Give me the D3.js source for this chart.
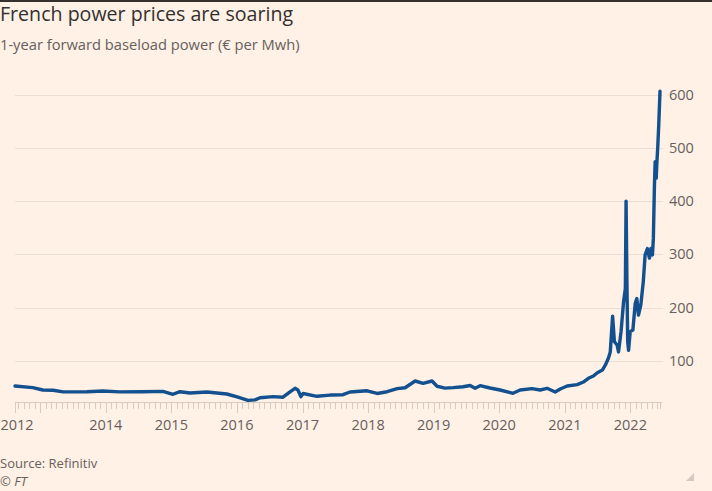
<!DOCTYPE html>
<html>
<head>
<meta charset="utf-8">
<script src="https://cdn.jsdelivr.net/npm/d3@7"></script>
<style>
  html, body { margin: 0; padding: 0; background: #fff1e5; }
  svg { display: block; }
</style>
</head>
<body>
<svg id="chart" width="712" height="491"></svg>
<script>
// ---- data ----
const dates = [
  "2012-08-13","2012-11-20","2013-01-15","2013-03-13","2013-05-08","2013-09-18","2013-12-15",
  "2014-03-20","2014-07-26","2014-11-15","2015-01-10","2015-02-18","2015-04-15","2015-07-18",
  "2015-11-06","2016-01-07","2016-03-03","2016-04-11","2016-05-09","2016-07-20","2016-09-14",
  "2016-10-23","2016-11-20","2016-12-06","2016-12-23","2017-01-04","2017-03-22","2017-06-03",
  "2017-08-14","2017-09-22","2017-12-26","2018-02-20","2018-04-17","2018-06-12","2018-07-26",
  "2018-09-20","2018-11-03","2018-12-23","2019-01-20","2019-03-05","2019-04-20","2019-06-14",
  "2019-07-23","2019-08-20","2019-09-17","2019-11-11","2020-01-06","2020-03-18","2020-04-27",
  "2020-07-02","2020-08-16","2020-09-24","2020-11-08","2020-12-06","2021-01-14","2021-03-11",
  "2021-04-14","2021-05-12","2021-06-09","2021-07-01","2021-07-29","2021-08-15","2021-09-01",
  "2021-09-11","2021-09-24","2021-10-04","2021-10-19","2021-10-27","2021-11-10","2021-11-24",
  "2021-12-04","2021-12-08","2021-12-13","2021-12-17","2021-12-22","2021-12-31","2022-01-15",
  "2022-01-28","2022-02-06","2022-02-15","2022-02-28","2022-03-14","2022-03-24","2022-04-06",
  "2022-04-17","2022-04-26","2022-05-04","2022-05-09","2022-05-15","2022-05-19","2022-05-25",
  "2022-05-28","2022-06-03","2022-06-08","2022-06-15"
];
const prices = [
  53,50,45.5,45,42,42.3,43.6,
  42,42.3,43,37.5,42.3,40,41.8,
  38,32,26,27,31,33,32,
  42,48.7,45.5,33,39,33.7,36,
  36.7,41.8,44,39,42.3,48,49.8,
  62.4,58,62.4,52.5,49,50,51.7,
  54,48.7,53.6,49.3,45.5,39.3,45.5,
  48,45.5,48.7,41.8,47.4,53,55.5,
  60.5,67.5,71.8,78,83,92.5,105.6,
  117,184,136,130,117,155,211,
  236,400,242,136,120,155,158,
  208,217,186,205,249,299,311,
  293,311,299,330,430,474,443,
  468,505,543,606
];
const yTicks = [100, 200, 300, 400, 500, 600];
const xTickDates = ["2012-08-13","2014-01-01","2015-01-01","2016-01-01","2017-01-01","2018-01-01","2019-01-01","2020-01-01","2021-01-01","2022-01-01"];
const xTickLabels = ["2012","2014","2015","2016","2017","2018","2019","2020","2021","2022"];
const title = "French power prices are soaring";
const subtitle = "1-year forward baseload power (€ per Mwh)";
const source = "Source: Refinitiv";
const credit = "© FT";

// ---- drawing ----
const parse = d3.timeParse("%Y-%m-%d");
const series = dates.map((d, i) => ({ date: parse(d), value: prices[i] }));
const svg = d3.select("#chart");
const FONT = "'Open Sans', sans-serif";

svg.append("rect").attr("width", 712).attr("height", 491).attr("fill", "#fff1e5");
svg.append("rect").attr("width", 712).attr("height", 2).attr("fill", "#33302e");

const x = d3.scaleTime()
  .domain([parse("2012-08-13"), parse("2022-06-15")])
  .range([15, 660]);
const y = d3.scaleLinear().domain([23, 600]).range([402, 94.5]);

// gridlines
svg.append("g").selectAll("line").data(yTicks).join("line")
  .attr("x1", 15).attr("x2", 663)
  .attr("y1", d => Math.round(y(d)) + 0.5).attr("y2", d => Math.round(y(d)) + 0.5)
  .attr("stroke", "#ebdfd3").attr("stroke-width", 1);

// y labels
svg.append("g").selectAll("text").data(yTicks).join("text")
  .attr("x", 669).attr("y", d => y(d) + 5)
  .attr("font-family", FONT).attr("font-size", 14.5).attr("fill", "#66605c")
  .text(d => d);

// x axis baseline & ticks
const axisColor = "#d8ccc0";
svg.append("line").attr("x1", 15).attr("x2", 662)
  .attr("y1", 402.5).attr("y2", 402.5).attr("stroke", axisColor);
const months = d3.timeMonth.range(d3.timeMonth.ceil(x.domain()[0]), x.domain()[1]);
svg.append("g").selectAll("line").data(months).join("line")
  .attr("x1", d => Math.round(x(d)) + 0.5).attr("x2", d => Math.round(x(d)) + 0.5)
  .attr("y1", 402).attr("y2", d => d.getMonth() === 0 ? 413 : 409)
  .attr("stroke", axisColor);
svg.append("line").attr("x1", 15.5).attr("x2", 15.5).attr("y1", 402).attr("y2", 413).attr("stroke", axisColor);
svg.append("line").attr("x1", 660.5).attr("x2", 660.5).attr("y1", 402).attr("y2", 409).attr("stroke", axisColor);

svg.append("g").selectAll("text").data(xTickDates).join("text")
  .attr("x", (d, i) => i === 0 ? 0.5 : x(parse(d)))
  .attr("y", 430)
  .attr("text-anchor", (d, i) => i === 0 ? "start" : "middle")
  .attr("font-family", FONT).attr("font-size", 14.5).attr("fill", "#66605c")
  .text((d, i) => xTickLabels[i]);

// line
const line = d3.line().x(d => x(d.date)).y(d => y(d.value)).curve(d3.curveLinear);
svg.append("path").datum(series)
  .attr("d", line)
  .attr("fill", "none")
  .attr("stroke", "#13508f")
  .attr("stroke-width", 3.4)
  .attr("stroke-linejoin", "round")
  .attr("stroke-linecap", "round");

// titles
svg.append("text").attr("x", 0).attr("y", 20.5)
  .attr("font-family", FONT).attr("font-size", 19.6).attr("fill", "#33302e").text(title);
svg.append("text").attr("x", 0).attr("y", 50)
  .attr("font-family", FONT).attr("font-size", 14.7).attr("fill", "#66605c").text(subtitle);
svg.append("text").attr("x", 0).attr("y", 468)
  .attr("font-family", FONT).attr("font-size", 13).attr("fill", "#66605c").text(source);
svg.append("text").attr("x", 0).attr("y", 486)
  .attr("font-family", FONT).attr("font-size", 13).attr("font-style", "italic").attr("fill", "#66605c").text(credit);

// resize handle
svg.append("path").attr("d", "M686,481 L694,473 L694,481 Z").attr("fill", "#d4cac0");
</script>
</body>
</html>
